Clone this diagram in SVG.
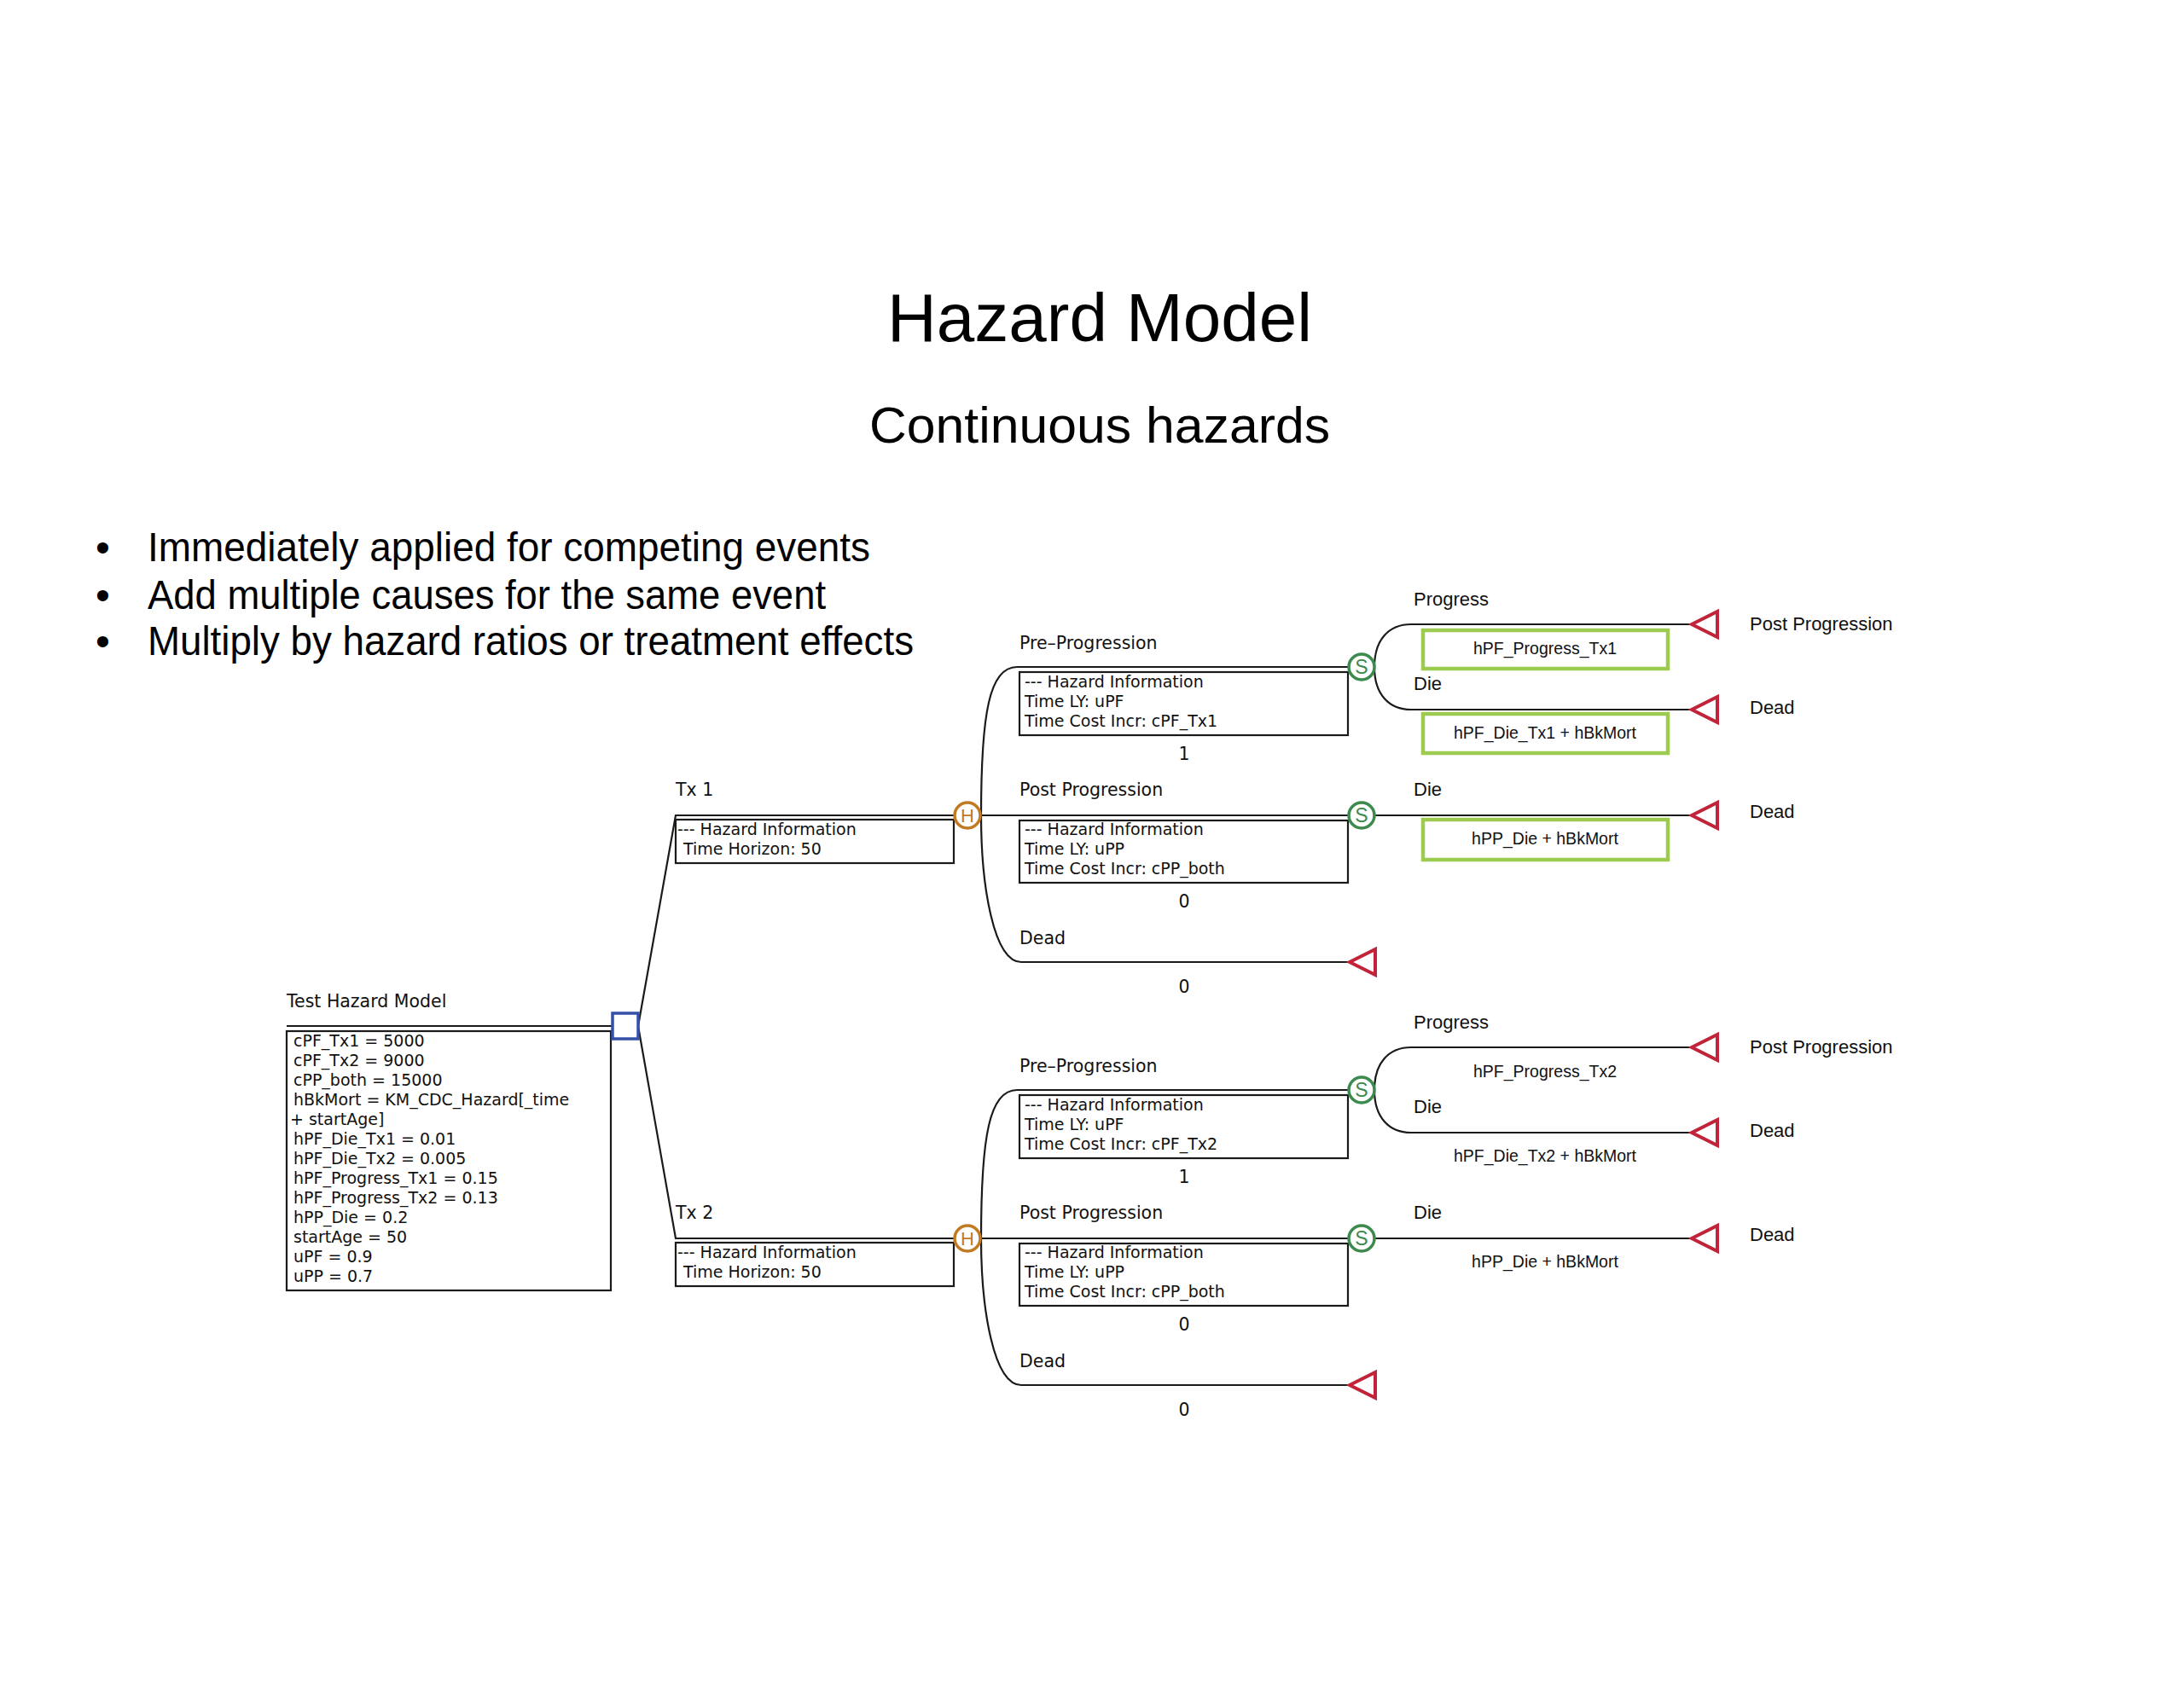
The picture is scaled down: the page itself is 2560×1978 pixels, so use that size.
<svg xmlns="http://www.w3.org/2000/svg" xmlns:xlink="http://www.w3.org/1999/xlink" width="2560" height="1978" viewBox="0 0 2560 1978">
<style>
.ln{fill:none;stroke:#1a1a1a;stroke-width:2.2}
.bx{fill:#fff;stroke:#1a1a1a;stroke-width:2.2}
.lbl{font-family:"DejaVu Sans",sans-serif;font-size:20.5px;fill:#111}
.bt{font-family:"DejaVu Sans",sans-serif;font-size:19px;fill:#111}
.val{font-family:"DejaVu Sans",sans-serif;font-size:20.5px;fill:#111;text-anchor:middle}
.rl{font-family:"Liberation Sans",Arial,sans-serif;font-size:22px;fill:#111}
.ex{font-family:"Liberation Sans",Arial,sans-serif;font-size:19.5px;fill:#111;text-anchor:middle}
.term{fill:#fff;stroke:#c0233a;stroke-width:4}
.hz{fill:#fff;stroke:#c27a22;stroke-width:3.5}
.hzt{font-family:"Liberation Sans",Arial,sans-serif;font-size:22px;fill:#c27a22;text-anchor:middle}
.sv{fill:#fff;stroke:#3c8a4e;stroke-width:3.5}
.svt{font-family:"Liberation Sans",Arial,sans-serif;font-size:23px;fill:#3c8a4e;text-anchor:middle}
.gb{fill:none;stroke:#9dcb4f;stroke-width:4.5}
.dec{fill:#fff;stroke:#3550a8;stroke-width:3.5}
.head{font-family:"Liberation Sans",Arial,sans-serif;fill:#000}
</style>
<defs>
<path id="tri" d="M0,0 L30,-15 L30,15 Z"/>
</defs>
<rect width="2560" height="1978" fill="#fff"/>

<g id="title">
<text class="head" x="1289" y="400" font-size="80" text-anchor="middle">Hazard Model</text>
<text class="head" x="1289" y="519" font-size="60" text-anchor="middle" textLength="540" lengthAdjust="spacingAndGlyphs">Continuous hazards</text>
</g>
<g id="bullets" class="head" font-size="48">
<text x="112" y="658">•</text>
<text x="173" y="658" textLength="847" lengthAdjust="spacingAndGlyphs">Immediately applied for competing events</text>
<text x="112" y="714">•</text>
<text x="173" y="714" textLength="795" lengthAdjust="spacingAndGlyphs">Add multiple causes for the same event</text>
<text x="112" y="768">•</text>
<text x="173" y="768" textLength="898" lengthAdjust="spacingAndGlyphs">Multiply by hazard ratios or treatment effects</text>
</g>

<g id="connectors">
<path class="ln" d="M336,1203 H718"/>
<path class="ln" d="M748,1203 L792,956 H1119"/>
<path class="ln" d="M748,1203 L792,1452 H1119"/>
<path class="ln" d="M1150,956 C1150,835 1160,782 1192,782 H1581"/>
<path class="ln" d="M1149,956 H1581"/>
<path class="ln" d="M1150,956 C1150,1040 1165,1128 1197,1128 H1582"/>
<path class="ln" d="M1611,782 C1611,750 1628,732 1654,732 H1983"/>
<path class="ln" d="M1611,782 C1611,814 1628,832 1654,832 H1983"/>
<path class="ln" d="M1611,956 H1983"/>
<path class="ln" d="M1150,1452 C1150,1331 1160,1278 1192,1278 H1581"/>
<path class="ln" d="M1149,1452 H1581"/>
<path class="ln" d="M1150,1452 C1150,1536 1165,1624 1197,1624 H1582"/>
<path class="ln" d="M1611,1278 C1611,1246 1628,1228 1654,1228 H1983"/>
<path class="ln" d="M1611,1278 C1611,1310 1628,1328 1654,1328 H1983"/>
<path class="ln" d="M1611,1452 H1983"/>
</g>

<g id="root">
<text class="lbl" x="336" y="1181">Test Hazard Model</text>
<rect class="bx" x="336" y="1209" width="380" height="304"/>
<g class="bt">
<text x="344" y="1227">cPF_Tx1 = 5000</text>
<text x="344" y="1250">cPF_Tx2 = 9000</text>
<text x="344" y="1273">cPP_both = 15000</text>
<text x="344" y="1296">hBkMort = KM_CDC_Hazard[_time</text>
<text x="340" y="1319">+ startAge]</text>
<text x="344" y="1342">hPF_Die_Tx1 = 0.01</text>
<text x="344" y="1365">hPF_Die_Tx2 = 0.005</text>
<text x="344" y="1388">hPF_Progress_Tx1 = 0.15</text>
<text x="344" y="1411">hPF_Progress_Tx2 = 0.13</text>
<text x="344" y="1434">hPP_Die = 0.2</text>
<text x="344" y="1457">startAge = 50</text>
<text x="344" y="1480">uPF = 0.9</text>
<text x="344" y="1503">uPP = 0.7</text>
</g>
<rect class="dec" x="718" y="1188" width="30" height="30"/>
</g>

<g id="tx1">
<text class="lbl" x="792" y="933">Tx 1</text>
<rect class="bx" x="792" y="961" width="326" height="51"/>
<text class="bt" x="794" y="979">--- Hazard Information</text>
<text class="bt" x="801" y="1002">Time Horizon: 50</text>
<circle class="hz" cx="1134" cy="956" r="15"/>
<text class="hzt" x="1134" y="964">H</text>
</g>

<g id="tx1-pre">
<text class="lbl" x="1195" y="761">Pre–Progression</text>
<rect class="bx" x="1195" y="788" width="385" height="74"/>
<text class="bt" x="1201" y="806">--- Hazard Information</text>
<text class="bt" x="1201" y="829">Time LY: uPF</text>
<text class="bt" x="1201" y="852">Time Cost Incr: cPF_Tx1</text>
<text class="val" x="1388" y="891">1</text>
<circle class="sv" cx="1596" cy="782" r="15"/>
<text class="svt" x="1596" y="790">S</text>
</g>
<g id="tx1-post">
<text class="lbl" x="1195" y="933">Post Progression</text>
<rect class="bx" x="1195" y="962" width="385" height="73"/>
<text class="bt" x="1201" y="979">--- Hazard Information</text>
<text class="bt" x="1201" y="1002">Time LY: uPP</text>
<text class="bt" x="1201" y="1025">Time Cost Incr: cPP_both</text>
<text class="val" x="1388" y="1064">0</text>
<circle class="sv" cx="1596" cy="956" r="15"/>
<text class="svt" x="1596" y="964">S</text>
</g>
<g id="tx1-dead">
<text class="lbl" x="1195" y="1107">Dead</text>
<text class="val" x="1388" y="1164">0</text>
<use xlink:href="#tri" class="term" x="1582" y="1128"/>
</g>
<g id="tx1-pre-progress">
<text class="rl" x="1657" y="710">Progress</text>
<rect class="gb" x="1668" y="739" width="287" height="45"/>
<text class="ex" x="1811" y="767">hPF_Progress_Tx1</text>
<use xlink:href="#tri" class="term" x="1983" y="732"/>
<text class="rl" x="2051" y="739" font-size="22.5">Post Progression</text>
</g>
<g id="tx1-pre-die">
<text class="rl" x="1657" y="809">Die</text>
<rect class="gb" x="1668" y="837" width="287" height="46"/>
<text class="ex" x="1811" y="866">hPF_Die_Tx1 + hBkMort</text>
<use xlink:href="#tri" class="term" x="1983" y="832"/>
<text class="rl" x="2051" y="837" font-size="22.5">Dead</text>
</g>
<g id="tx1-post-die">
<text class="rl" x="1657" y="933">Die</text>
<rect class="gb" x="1668" y="961" width="287" height="47"/>
<text class="ex" x="1811" y="990">hPP_Die + hBkMort</text>
<use xlink:href="#tri" class="term" x="1983" y="956"/>
<text class="rl" x="2051" y="959" font-size="22.5">Dead</text>
</g>

<g id="tx2">
<text class="lbl" x="792" y="1429">Tx 2</text>
<rect class="bx" x="792" y="1457" width="326" height="51"/>
<text class="bt" x="794" y="1475">--- Hazard Information</text>
<text class="bt" x="801" y="1498">Time Horizon: 50</text>
<circle class="hz" cx="1134" cy="1452" r="15"/>
<text class="hzt" x="1134" y="1460">H</text>
</g>

<g id="tx2-pre">
<text class="lbl" x="1195" y="1257">Pre–Progression</text>
<rect class="bx" x="1195" y="1284" width="385" height="74"/>
<text class="bt" x="1201" y="1302">--- Hazard Information</text>
<text class="bt" x="1201" y="1325">Time LY: uPF</text>
<text class="bt" x="1201" y="1348">Time Cost Incr: cPF_Tx2</text>
<text class="val" x="1388" y="1387">1</text>
<circle class="sv" cx="1596" cy="1278" r="15"/>
<text class="svt" x="1596" y="1286">S</text>
</g>
<g id="tx2-post">
<text class="lbl" x="1195" y="1429">Post Progression</text>
<rect class="bx" x="1195" y="1458" width="385" height="73"/>
<text class="bt" x="1201" y="1475">--- Hazard Information</text>
<text class="bt" x="1201" y="1498">Time LY: uPP</text>
<text class="bt" x="1201" y="1521">Time Cost Incr: cPP_both</text>
<text class="val" x="1388" y="1560">0</text>
<circle class="sv" cx="1596" cy="1452" r="15"/>
<text class="svt" x="1596" y="1460">S</text>
</g>
<g id="tx2-dead">
<text class="lbl" x="1195" y="1603">Dead</text>
<text class="val" x="1388" y="1660">0</text>
<use xlink:href="#tri" class="term" x="1582" y="1624"/>
</g>
<g id="tx2-pre-progress">
<text class="rl" x="1657" y="1206">Progress</text>
<text class="ex" x="1811" y="1263">hPF_Progress_Tx2</text>
<use xlink:href="#tri" class="term" x="1983" y="1228"/>
<text class="rl" x="2051" y="1235" font-size="22.5">Post Progression</text>
</g>
<g id="tx2-pre-die">
<text class="rl" x="1657" y="1305">Die</text>
<text class="ex" x="1811" y="1362">hPF_Die_Tx2 + hBkMort</text>
<use xlink:href="#tri" class="term" x="1983" y="1328"/>
<text class="rl" x="2051" y="1333" font-size="22.5">Dead</text>
</g>
<g id="tx2-post-die">
<text class="rl" x="1657" y="1429">Die</text>
<text class="ex" x="1811" y="1486">hPP_Die + hBkMort</text>
<use xlink:href="#tri" class="term" x="1983" y="1452"/>
<text class="rl" x="2051" y="1455" font-size="22.5">Dead</text>
</g>
</svg>
